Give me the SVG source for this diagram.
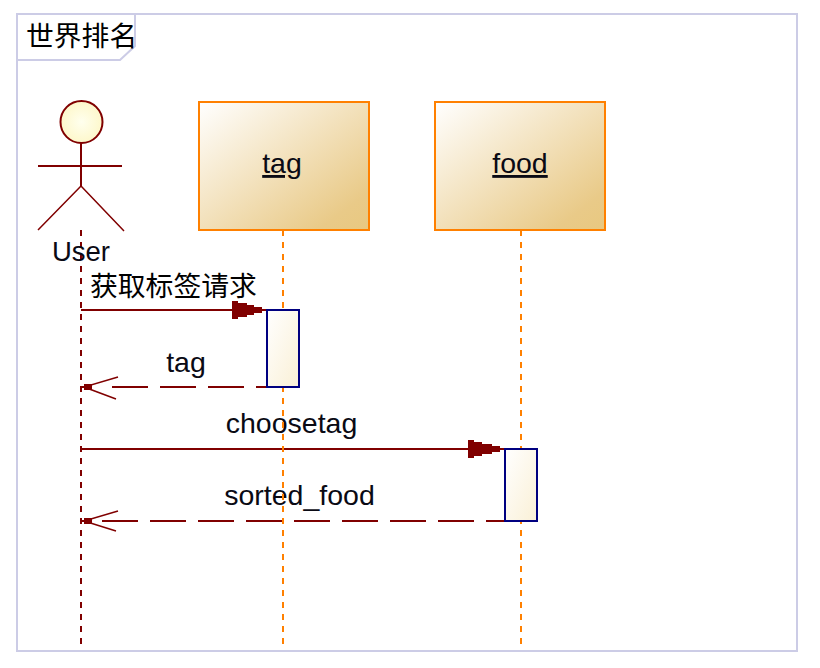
<svg xmlns="http://www.w3.org/2000/svg" width="820" height="668" viewBox="0 0 820 668">
<style>
text{font-family:"Liberation Sans","Noto Sans CJK SC",sans-serif;font-size:28.500px;fill:#0a0a14}
.cjk{font-family:"Noto Sans CJK SC","Liberation Sans",sans-serif;font-size:27.800px;fill:#000}
.mid{text-anchor:middle}
.box{stroke:#ff8000;stroke-width:2;fill:url(#boxGrad)}
.act{stroke:#000080;stroke-width:2;fill:url(#actGrad)}
.life{stroke-width:2;stroke-dasharray:6 6;fill:none}
.msg{stroke:#800000;stroke-width:2;fill:none}
.ret{stroke:#800000;stroke-width:2;fill:none;stroke-dasharray:36 12}
.barb{stroke:#800000;stroke-width:1.500;fill:none}
.fig{stroke:#800000;stroke-width:2;fill:none}
.leg{stroke:#800000;stroke-width:1.500;fill:none}
.head{fill:#800000;stroke:none;shape-rendering:crispEdges}
.frame{stroke:#ccccE6;stroke-width:2;fill:#fff}
</style>
<defs>
<linearGradient id="boxGrad" x1="0" y1="0" x2="1" y2="1"><stop offset="0" stop-color="#ffffff"/><stop offset="0.85" stop-color="#e9ca88"/><stop offset="1" stop-color="#e8c880"/></linearGradient>
<linearGradient id="actGrad" x1="0" y1="0" x2="1" y2="1"><stop offset="0" stop-color="#ffffff"/><stop offset="1" stop-color="#faf0d6"/></linearGradient>
<radialGradient id="headGrad" cx="0.5" cy="0.5" r="0.6"><stop offset="0" stop-color="#ffffee"/><stop offset="1" stop-color="#fdf6c4"/></radialGradient>
</defs>
<g id="frame">
<rect class="frame" x="17" y="14" width="780" height="637"/>
<path d="M17 60H120L135 46V14" fill="none" stroke="#ccccE6" stroke-width="2"/>
<text class="cjk" x="26" y="46">世界排名</text>
</g>
<g id="connectors">
<line class="msg" x1="81" y1="310" x2="267" y2="310"/>
<polygon class="head" points="232,301 238,301 238,303 247,303 247,305 254,305 254,307 262,307 262,313 254,313 254,315 247,315 247,317 238,317 238,319 232,319"/>
<line class="ret" x1="112" y1="387" x2="267" y2="387"/>
<path class="barb" d="M118 377L84 387L116 399"/>
<polygon class="head" points="81,386 84,386 84,384 92,384 92,390 84,390 84,388 81,388"/>
<text class="mid" x="186" y="372">tag</text>
<text x="90" y="296" class="cjk">获取标签请求</text>
<line class="msg" x1="81" y1="449" x2="505" y2="449"/>
<polygon class="head" points="468,440 474,440 474,442 482,442 482,444 492,444 492,446 500,446 500,452 492,452 492,454 482,454 482,456 474,456 474,458 468,458"/>
<text class="mid" x="291.500" y="433">choosetag</text>
<line class="ret" x1="102" y1="521" x2="505" y2="521"/>
<path class="barb" d="M118 511L84 521L116 531"/>
<polygon class="head" points="81,520 84,520 84,518 92,518 92,524 84,524 84,522 81,522"/>
<text class="mid" x="299.500" y="505">sorted_food</text>
<line class="life" x1="81" y1="230" x2="81" y2="645" stroke="#800000"/>
<line class="life" x1="283" y1="230" x2="283" y2="645" stroke="#ff8000"/>
<line class="life" x1="521" y1="230" x2="521" y2="645" stroke="#ff8000"/>
</g>
<g id="user">
<circle cx="81.500" cy="122" r="21" stroke="#800000" stroke-width="2" fill="url(#headGrad)"/>
<path class="fig" d="M81 143V186M38 166H122"/>
<path class="leg" d="M81 186L38 230M81 186L124 231"/>
<text class="mid" x="81" y="261" style="font-size:27.500px">User</text>
</g>
<g id="tag">
<rect class="box" x="199" y="102" width="170" height="128"/>
<text class="mid" x="282" y="173" text-decoration="underline">tag</text>
</g>
<g id="food">
<rect class="box" x="435" y="102" width="170" height="128"/>
<text class="mid" x="520" y="173" text-decoration="underline">food</text>
</g>
<g id="tag-activation"><rect class="act" x="267" y="310" width="32" height="77"/></g>
<g id="food-activation"><rect class="act" x="505" y="449" width="32" height="72"/></g>
</svg>
